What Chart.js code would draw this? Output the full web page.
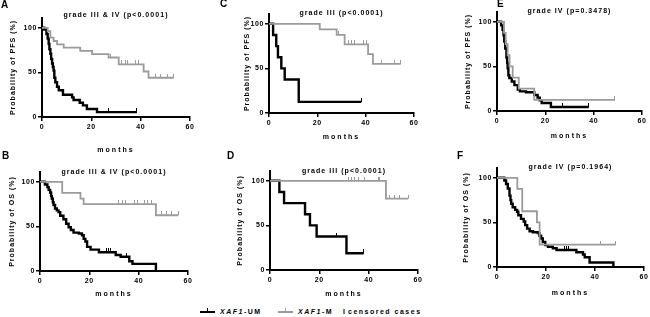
<!DOCTYPE html>
<html>
<head>
<meta charset="utf-8">
<script src="https://cdn.jsdelivr.net/npm/chart.js@4.4.1/dist/chart.umd.min.js"></script>
<style>
  html, body { margin: 0; padding: 0; background: #fff; }
  #wrap { position: relative; width: 650px; height: 317px; overflow: hidden; font-family: Arial, "Liberation Sans", sans-serif; }
  #wrap canvas { position: absolute; }
  .lg { position: absolute; top: 306px; height: 12px; line-height: 12px; font-size: 7px; font-weight: bold; letter-spacing: 1.5px; color: #000; white-space: nowrap; }
  .lg i { font-style: italic; }
  .sw { position: absolute; }
</style>
</head>
<body>
<div id="wrap">
  <div class="sw" style="left:200px;top:311px;width:15px;height:2px;background:#000"></div>
  <div class="sw" style="left:207px;top:308px;width:1px;height:3px;background:#000"></div>
  <div class="lg" style="left:220px"><i>XAF1</i>-UM</div>
  <div class="sw" style="left:278px;top:311px;width:15px;height:1.5px;background:#9b9b9b"></div>
  <div class="sw" style="left:285px;top:308px;width:1px;height:3px;background:#9b9b9b"></div>
  <div class="lg" style="left:298px"><i>XAF1</i>-M</div>
  <div class="lg" style="left:343px;letter-spacing:0">I</div>
  <div class="lg" style="left:348px">censored cases</div>
</div>
<script>
// axis ticks
const xTicks = [0, 20, 40, 60];
const yTicks = [0, 50, 100];

// A: PFS grade III & IV
const aUmT = [0, 0.9, 1.8, 2.3, 2.7, 3.0, 3.4, 3.7, 4.1, 4.4, 4.7, 5.0, 5.4, 6.1, 6.8, 8.5, 12.2, 12.8, 15.3, 16.6, 18.2, 22.3, 38.5];
const aUmS = [100, 98, 93, 88, 82, 76, 71, 65, 60, 56, 52, 44, 39, 34, 30, 25, 22, 19, 16, 13, 9, 5.5, 5.5];
const aUmC = [27, 38.5];
const aMT = [0, 2.3, 3.4, 4.7, 6.1, 8.8, 15.5, 20.3, 27, 31.1, 41.2, 43.2, 53.4];
const aMS = [100, 96.3, 88.9, 85.2, 81.5, 77.8, 74.1, 70.4, 66.7, 59, 51, 44, 44];
const aMC = [27.7, 32.4, 33.8, 34.5, 37.8, 39.2, 45.9, 48, 50.7, 53.4];

// B: OS grade III & IV
const bUmT = [0, 2, 3, 3.5, 4.1, 4.5, 4.8, 5.2, 5.5, 6.1, 6.8, 7.5, 8.2, 9.5, 10.6, 11.6, 12.5, 13.6, 15.7, 17, 17.7, 18.4, 19.1, 20.5, 23.9, 30.7, 32.7, 36.2, 37.5, 47];
const bUmS = [100, 97, 94, 91, 88, 84, 81, 77, 74, 70, 68, 66, 62, 58, 53, 49, 46, 43, 42, 40, 36, 33, 27, 24, 21, 18, 16, 11, 8, 0];
const bUmC = [26.8, 27.8, 28.6, 35.2];
const bMT = [0, 9, 16.4, 17.7, 47, 56];
const bMS = [100, 87.5, 81.25, 75, 62.5, 62.5];
const bMC = [32, 33.4, 34.8, 38.2, 39.6, 42.3, 43.7, 45, 49.1, 51.2, 53.2, 56];

// C: PFS grade III
const cUmT = [0, 1.7, 3, 3.7, 5.1, 6.5, 12.3, 38.2];
const cUmS = [100, 87.5, 75, 62.5, 50, 37.5, 12.5, 12.5];
const cUmC = [38.2];
const cMT = [0, 21, 28, 31.3, 41, 43, 54.5];
const cMS = [100, 93.8, 87.5, 77, 66, 55, 55];
const cMC = [28.6, 32.7, 34, 35.4, 38.9, 40.3, 46.5, 52, 54.5];

// D: OS grade III
const dUmT = [0, 3.8, 5.7, 14.2, 16.2, 18.9, 31, 38];
const dUmS = [100, 87.5, 75, 62.5, 50, 37.5, 18.75, 18.75];
const dUmC = [27, 38];
const dMT = [0, 47, 56];
const dMS = [100, 80, 80];
const dMC = [31.7, 33, 34.4, 35.7, 38.4, 43.8, 44.5, 48.5, 50.5, 52.3, 56];

// E: PFS grade IV
const eUmT = [0, 1.7, 2.3, 2.7, 3, 3.4, 3.9, 4.2, 4.4, 4.7, 5.1, 6.1, 7.2, 8.6, 9.5, 12, 15.4, 16.8, 17.7, 18.5, 22.3, 38];
const eUmS = [100, 96, 91, 85, 78, 70, 60, 54, 48, 40, 37, 33, 29, 24, 22, 21, 18, 15, 12, 9, 4.5, 4.5];
const eUmC = [27, 38];
const eMT = [0, 2.9, 3.6, 4.4, 5.2, 6.5, 9, 15.4, 48.8];
const eMS = [100, 87.5, 75, 62.5, 50, 37.5, 25, 12.5, 12.5];
const eMC = [48.8];

// F: OS grade IV
const fUmT = [0, 3, 3.7, 4.4, 5.1, 5.5, 5.8, 6.4, 7.4, 8.2, 8.7, 9.8, 10.9, 11.5, 12.3, 13.3, 14.6, 16.7, 17.3, 18, 18.7, 19.7, 20.8, 22.8, 24.3, 32.4, 35.1, 35.8, 37.8, 47.5];
const fUmS = [100, 97, 93, 88, 80, 75, 71, 67, 64, 62, 58, 54, 51, 47, 43, 40, 39, 38, 35, 32, 28, 24.5, 22.7, 21, 19, 16.5, 14, 11, 5, 0];
const fUmC = [27.6, 28.3, 29.2];
const fMT = [0, 8.3, 10.3, 16.3, 17.4, 48.5];
const fMS = [100, 87.5, 62.5, 50, 25, 25];
const fMC = [42.4, 48.5];

const FONT = 'Arial, "Liberation Sans", sans-serif';
const GRAY = '#9b9b9b';
const FS = 7;
const LH = FS * 1.2;

// page positions: box = canvas [x, y, w, h], area = plot [left, top, right, bottom]
const panels = [
    { letter: 'A', box: [0, 0, 215, 158], area: [42, 18, 190, 117], yTitleX: 13, xTitleY: 150, titleY: 15, letterXY: [1, 5],
      title: 'grade III & IV (p<0.0001)', yTitle: 'Probability of PFS (%)', um: [aUmT, aUmS, aUmC], m: [aMT, aMS, aMC] },
    { letter: 'B', box: [0, 148, 215, 152], area: [40, 172, 188, 271], yTitleX: 12, xTitleY: 294, titleY: 172, letterXY: [2, 156],
      title: 'grade III & IV (p<0.0001)', yTitle: 'Probability of OS (%)', um: [bUmT, bUmS, bUmC], m: [bMT, bMS, bMC] },
    { letter: 'C', box: [215, 0, 225, 145], area: [269, 14, 414, 113], yTitleX: 247, xTitleY: 137, titleY: 13.5, letterXY: [220, 4],
      title: 'grade III (p<0.0001)', yTitle: 'Probability of PFS (%)', um: [cUmT, cUmS, cUmC], m: [cMT, cMS, cMC] },
    { letter: 'D', box: [215, 148, 225, 152], area: [270, 171, 418, 270], yTitleX: 240, xTitleY: 294, titleY: 171, letterXY: [227, 156],
      title: 'grade III (p<0.0001)', yTitle: 'Probability of OS (%)', um: [dUmT, dUmS, dUmC], m: [dMT, dMS, dMC] },
    { letter: 'E', box: [440, 0, 210, 145], area: [497, 12, 642, 111], yTitleX: 468, xTitleY: 136, titleY: 11, letterXY: [497, 4],
      title: 'grade IV (p=0.3478)', yTitle: 'Probability of PFS (%)', um: [eUmT, eUmS, eUmC], m: [eMT, eMS, eMC] },
    { letter: 'F', box: [440, 148, 210, 152], area: [497, 168, 644, 267], yTitleX: 466, xTitleY: 293, titleY: 167.5, letterXY: [457, 156],
      title: 'grade IV (p=0.1964)', yTitle: 'Probability of OS (%)', um: [fUmT, fUmS, fUmC], m: [fMT, fMS, fMC] }
];

// spaced-out lettering like the GraphPad export
const origTitle = Chart.Scale.prototype.drawTitle;
Chart.Scale.prototype.drawTitle = function () {
    this.ctx.letterSpacing = this.axis === 'x' ? '2px' : '1px';
    origTitle.call(this);
    this.ctx.letterSpacing = '0px';
};
const origLabels = Chart.Scale.prototype.drawLabels;
Chart.Scale.prototype.drawLabels = function (area) {
    this.ctx.letterSpacing = '0.6px';
    origLabels.call(this, area);
    this.ctx.letterSpacing = '0px';
};

const panelText = {
    id: 'panelText',
    afterDraw(chart, args, o) {
        const { ctx, chartArea } = chart;
        ctx.save();
        ctx.fillStyle = '#000';
        ctx.textBaseline = 'middle';
        ctx.font = `bold ${FS}px ${FONT}`;
        ctx.letterSpacing = '1.05px';
        ctx.textAlign = 'center';
        ctx.fillText(o.title, (chartArea.left + chartArea.right) / 2, o.titleY);
        ctx.letterSpacing = '0px';
        ctx.font = `bold 10px ${FONT}`;
        ctx.textAlign = 'left';
        ctx.fillText(o.letter, o.letterX, o.letterY);
        ctx.restore();
    }
};

function tickImg(color) {
    const c = document.createElement('canvas');
    c.width = 1; c.height = 8;
    const g = c.getContext('2d');
    g.fillStyle = color;
    g.fillRect(0, 0, 1, 4);
    return c;
}

function levelAt(T, S, t) {
    let v = S[0];
    for (let i = 0; i < T.length; i++) if (T[i] <= t) v = S[i];
    return v;
}

function kmLine(series, color, w) {
    const [T, S] = series;
    return {
        data: T.map((t, i) => ({ x: t, y: S[i] })),
        borderColor: color, borderWidth: w, stepped: true,
        pointRadius: 0, fill: false, tension: 0
    };
}

function censorSet(series, color) {
    const [T, S, C] = series;
    return {
        data: C.map(t => ({ x: t, y: levelAt(T, S, t) })),
        showLine: false, pointStyle: tickImg(color), pointRadius: 3,
        borderColor: color, backgroundColor: color
    };
}

const wrap = document.getElementById('wrap');

function buildPanel(p) {
    const [bx, by, bw, bh] = p.box;
    const [l, t, r, b] = p.area;
    const cv = document.createElement('canvas');
    cv.width = bw; cv.height = bh;
    cv.style.left = bx + 'px'; cv.style.top = by + 'px';
    cv.style.width = bw + 'px'; cv.style.height = bh + 'px';
    wrap.appendChild(cv);

    const font = { family: FONT, size: FS, weight: 'bold' };
    const grid = { display: true, drawOnChartArea: false, drawTicks: true, tickLength: 4, color: '#000', lineWidth: 1.5 };
    const border = { display: true, color: '#000', width: 2 };

    new Chart(cv, {
        type: 'line',
        data: {
            datasets: [
                kmLine(p.m, GRAY, 1.8),
                kmLine(p.um, '#000', 2.4),
                censorSet(p.m, GRAY),
                censorSet(p.um, '#000')
            ]
        },
        options: {
            responsive: false,
            animation: false,
            devicePixelRatio: 1,
            layout: { padding: { left: 0, top: t - by, right: bx + bw - r, bottom: 0 } },
            plugins: {
                legend: { display: false },
                tooltip: { enabled: false },
                panelText: { title: p.title, titleY: p.titleY - by, letter: p.letter, letterX: p.letterXY[0] - bx, letterY: p.letterXY[1] - by }
            },
            scales: {
                x: {
                    type: 'linear', min: 0, max: 60,
                    afterBuildTicks: s => { s.ticks = xTicks.map(v => ({ value: v })); },
                    afterFit: s => { s.height = by + bh - b; },
                    ticks: { font, color: '#000', padding: 2, maxRotation: 0 },
                    grid, border,
                    title: { display: true, text: 'months', font, color: '#000', padding: { top: 0, bottom: by + bh - p.xTitleY - LH / 2 } }
                },
                y: {
                    type: 'linear', min: 0, max: 111,
                    afterBuildTicks: s => { s.ticks = yTicks.map(v => ({ value: v })); },
                    afterFit: s => { s.width = l - bx; },
                    ticks: { font, color: '#000', padding: 1 },
                    grid, border,
                    title: { display: true, text: p.yTitle, font, color: '#000', padding: { top: p.yTitleX - bx - LH / 2, bottom: 0 } }
                }
            }
        },
        plugins: [panelText]
    });
}

panels.forEach(buildPanel);
</script>
</body>
</html>
